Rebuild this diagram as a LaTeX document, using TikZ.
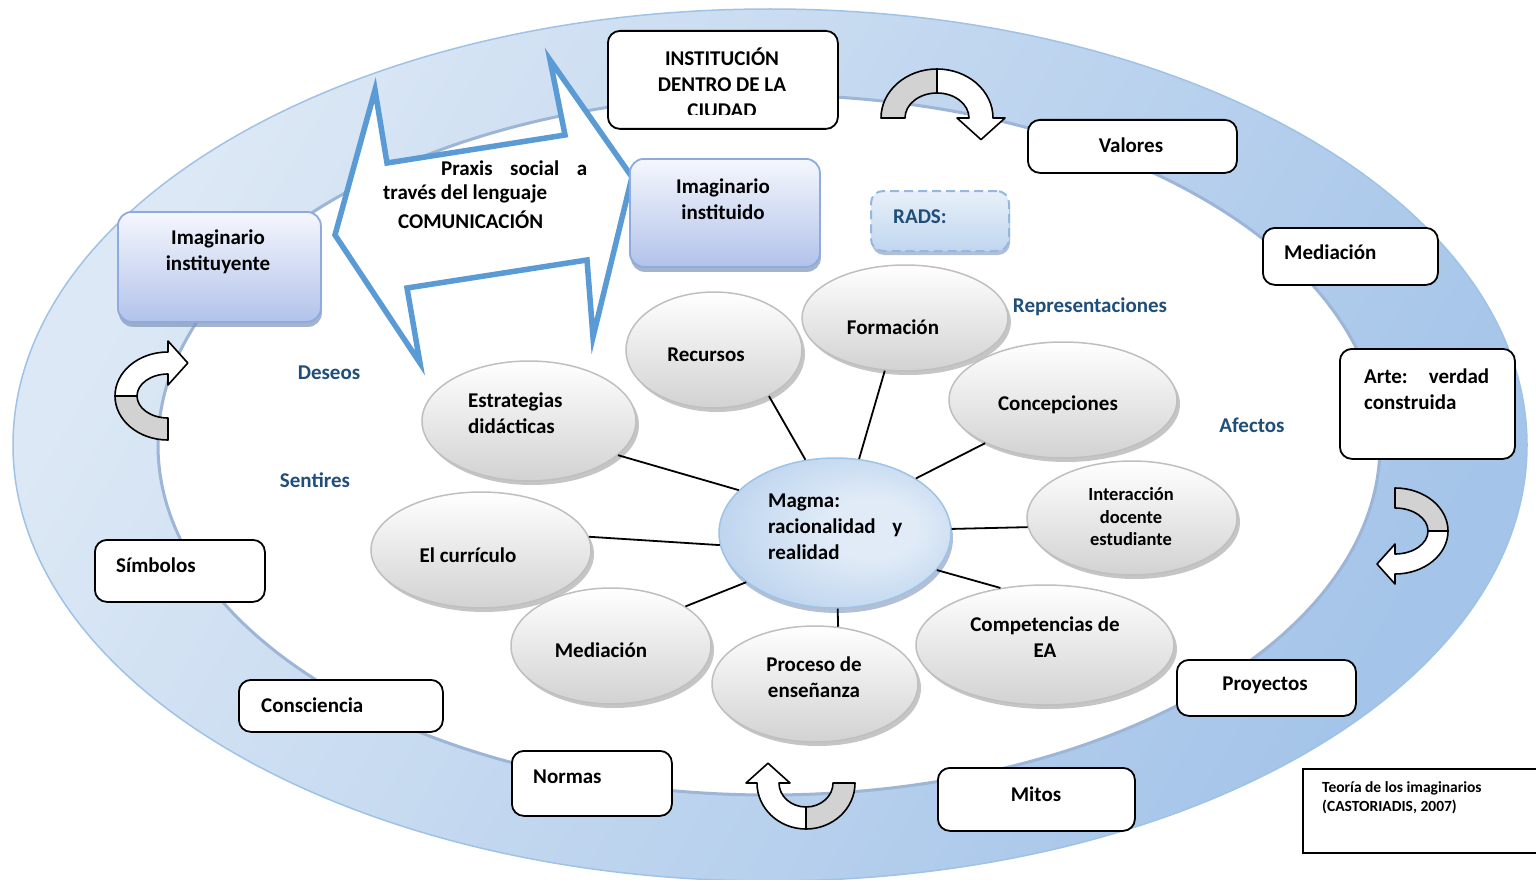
\documentclass[tikz,border=0pt]{standalone}
\usepackage{fontspec}
\setmainfont{Carlito}
\usetikzlibrary{shapes.geometric,shadows}
\definecolor{ringA}{HTML}{DCE8F5}
\definecolor{ringB}{HTML}{A4C4E9}
\definecolor{ringEdge}{HTML}{9FC2E7}
\definecolor{innerEdge}{HTML}{9DB5D6}
\definecolor{arrowBlue}{HTML}{5B9BD5}
\definecolor{boxTop}{HTML}{F5F7FD}
\definecolor{boxBot}{HTML}{B2C2EA}
\definecolor{boxEdge}{HTML}{8FAADC}
\definecolor{shadowBlue}{HTML}{7F95B8}
\definecolor{labBlue}{HTML}{1F4E79}
\definecolor{ellEdge}{HTML}{BFBFBF}
\definecolor{ellBot}{HTML}{D2D2D2}
\definecolor{magIn}{HTML}{E0EBF7}
\definecolor{magOut}{HTML}{9DBFE6}
\definecolor{magEdge}{HTML}{9DC3E6}
\definecolor{radTop}{HTML}{E8F0F9}
\definecolor{radBot}{HTML}{C0D6EF}
\definecolor{radEdge}{HTML}{95B8E3}
\pgfdeclareradialshading{magmashade}{\pgfpoint{10bp}{2bp}}{color(0bp)=(magIn); color(10bp)=(magIn); color(48bp)=(magOut)}
\newcommand\fA{\fontsize{21}{26}\selectfont\bfseries}
\newcommand\fB{\fontsize{18.5}{22.5}\selectfont\bfseries}
\newcommand\fC{\fontsize{15.5}{19}\selectfont\bfseries}
% x, y, rotation, half span a, height b, half band h
\newcommand{\uturnarrow}[6]{%
\begin{scope}[shift={(#1,#2)},rotate=#3,yscale=-1,line width=1.6pt,line join=round]
\filldraw[fill=gray!35] ({-(#4)-(#6)},0) arc[start angle=180,end angle=90,x radius={#4+#6},y radius={#5+#6}] -- (0,{#5-#6}) arc[start angle=90,end angle=180,x radius={#4-#6},y radius={#5-#6}] -- cycle;
\filldraw[fill=white] (0,{#5+#6}) arc[start angle=90,end angle=0,x radius={#4+#6},y radius={#5+#6}] -- ({#4+2*#6},0) -- (#4,{-1.8*#6}) -- ({#4-2*#6},0) -- ({#4-#6},0) arc[start angle=0,end angle=90,x radius={#4-#6},y radius={#5-#6}] -- cycle;
\end{scope}}
\begin{document}
\begin{tikzpicture}[x=1pt,y=-1pt,
  wbox/.style={draw=black,line width=1.8pt,fill=white,rounded corners=12pt,inner sep=0pt,anchor=north west},
  bbox/.style={draw=boxEdge,line width=1.8pt,top color=boxTop,bottom color=boxBot,rounded corners=14pt,inner sep=0pt,anchor=north west,drop shadow={shadow xshift=1pt,shadow yshift=-5pt,fill=shadowBlue,opacity=0.7}},
  gell/.style={ellipse,draw=ellEdge,line width=1.5pt,top color=white,bottom color=ellBot,inner sep=0pt,drop shadow={shadow xshift=3pt,shadow yshift=-4pt,fill=black!50,opacity=0.45}},
  txt/.style={font=\fA,inner sep=0pt,align=center},
  ltxt/.style={font=\fA,inner sep=0pt,align=left,anchor=west},
  blab/.style={font=\fA,text=labBlue,inner sep=0pt},
  conn/.style={line width=1.8pt,black}]
\useasboundingbox (0,0) rectangle (1536,880);

% ring
\shadedraw[top color=ringA,bottom color=ringB,shading angle=60,draw=ringEdge,line width=1.5pt] (770,445) ellipse[x radius=757,y radius=436];
\filldraw[fill=white,draw=innerEdge,line width=3pt] (769,445) ellipse[x radius=611,y radius=350];

% double arrow
\draw[arrowBlue,line width=5.5pt,fill=white,line join=miter] (335,235) -- (375,90) -- (387,163) -- (565,135) -- (550,60) -- (632,177) -- (593,337) -- (587,260) -- (407,288) -- (420,363) -- cycle;
\node[inner sep=0pt,anchor=west,font=\fA] (praxis1) at (441,168) {\hbox to 146pt{Praxis\hfill social\hfill a}};
\node[ltxt] (praxis2) at (383,194) {través del lenguaje};
\node[ltxt] (praxis3) at (398,220) {COMUNICACIÓN};

% white boxes
\node[wbox,minimum width=230pt,minimum height=98pt] (inst) at (607,30) {};
\begin{scope}
\clip (607,30) rectangle (837,115);
\node[txt] (tinst) at (722,83) {INSTITUCIÓN\\DENTRO DE LA\\CIUDAD};
\end{scope}
\node[wbox,minimum width=209pt,minimum height=53pt] (valores) at (1027,119) {};
\node[txt] (tvalores) at (1131,145) {Valores};
\node[wbox,minimum width=175pt,minimum height=57pt] (mediacionB) at (1262,227) {};
\node[ltxt] (tmediacionB) at (1284,252) {Mediación};
\node[wbox,minimum width=175pt,minimum height=110pt] (arte) at (1339,348) {};
\node[ltxt] (tarte) at (1364,389) {\hbox to 125pt{Arte:\hfill verdad}\\construida};
\node[wbox,minimum width=170pt,minimum height=62pt] (simbolos) at (94,539) {};
\node[ltxt] (tsimbolos) at (116,565) {Símbolos};
\node[wbox,minimum width=204pt,minimum height=52pt] (consciencia) at (238,679) {};
\node[ltxt] (tconsciencia) at (261,705) {Consciencia};
\node[wbox,minimum width=160pt,minimum height=65pt] (normas) at (511,750) {};
\node[ltxt] (tnormas) at (533,777) {Normas};
\node[wbox,minimum width=197pt,minimum height=63pt] (mitos) at (937,767) {};
\node[txt] (tmitos) at (1036,794) {Mitos};
\node[wbox,minimum width=179pt,minimum height=56pt] (proyectos) at (1176,659) {};
\node[txt] (tproyectos) at (1265,685) {Proyectos};
\node[draw=black,line width=1.8pt,fill=white,inner sep=0pt,anchor=north west,minimum width=250pt,minimum height=84pt] (teoria) at (1302,768) {};
\node[inner sep=0pt,align=left,anchor=west,font=\fC] (tteoria) at (1322,798) {Teoría de los imaginarios\\(CASTORIADIS, 2007)};

% blue boxes
\node[bbox,minimum width=203pt,minimum height=110pt] (instituyente) at (117,211) {};
\node[txt] (tinstituyente) at (218,252) {Imaginario\\instituyente};
\node[bbox,minimum width=190pt,minimum height=108pt] (instituido) at (629,158) {};
\node[txt] (tinstituido) at (723,199) {Imaginario\\instituido};
\node[draw=radEdge,line width=2pt,dash pattern=on 9pt off 5pt,top color=radTop,bottom color=radBot,rounded corners=12pt,inner sep=0pt,anchor=north west,minimum width=138pt,minimum height=60pt,drop shadow={shadow xshift=1pt,shadow yshift=-4pt,fill=shadowBlue,opacity=0.6}] (rads) at (870,190) {};
\node[blab,anchor=west] (trads) at (893,217) {RADS:};

% blue labels
\node[blab] (deseos) at (329,373) {Deseos};
\node[blab] (sentires) at (315,480) {Sentires};
\node[blab] (repres) at (1090,307) {Representaciones};
\node[blab] (afectos) at (1252,425) {Afectos};

% ellipses
\node[gell,minimum width=176pt,minimum height=116pt] (recursos) at (714,350) {};
\node[gell,minimum width=206pt,minimum height=106pt] (formacion) at (905,318) {};
\node[gell,minimum width=228pt,minimum height=116pt] (concepciones) at (1063,400) {};
\node[gell,minimum width=214pt,minimum height=120pt] (estrategias) at (529,421) {};
\node[gell,minimum width=210pt,minimum height=114pt] (interaccion) at (1132,518) {};
\node[gell,minimum width=220pt,minimum height=116pt] (curriculo) at (481,550) {};
\node[gell,minimum width=200pt,minimum height=116pt] (mediacion) at (611,646) {};
\node[gell,minimum width=206pt,minimum height=116pt] (proceso) at (815,684) {};
\node[gell,minimum width=258pt,minimum height=120pt] (competencias) at (1045,645) {};
\node[ellipse,draw=magEdge,line width=1.5pt,shading=magmashade,inner sep=0pt,minimum width=232pt,minimum height=150pt,drop shadow={shadow xshift=2pt,shadow yshift=-5pt,fill=shadowBlue,opacity=0.6}] (magma) at (835,533) {};

\node[txt] (trecursos) at (706,355) {Recursos};
\node[txt] (tformacion) at (893,327) {Formación};
\node[txt] (tconcepciones) at (1058,405) {Concepciones};
\node[ltxt] (testrategias) at (468,413) {Estrategias\\didácticas};
\node[inner sep=0pt,align=center,font=\fB] (tinteraccion) at (1131,517) {Interacción\\docente\\estudiante};
\node[txt] (tcurriculo) at (468,555) {El currículo};
\node[txt] (tmediacion) at (601,650) {Mediación};
\node[txt] (tproceso) at (814,677) {Proceso de\\enseñanza};
\node[txt] (tcompetencias) at (1045,637) {Competencias de\\EA};
\node[ltxt] (tmagma) at (768,527) {Magma:\\\hbox to 134pt{racionalidad\hfill y}\\realidad};

% connectors
\draw[conn] (magma.112) -- (recursos.-40);
\draw[conn] (magma.72) -- (formacion.-111);
\draw[conn] (magma.34) -- (concepciones.209);
\draw[conn] (magma.156) -- (estrategias.-21);
\draw[conn] (magma.2) -- (interaccion.185);
\draw[conn] (magma.186) -- (curriculo.7);
\draw[conn] (magma.209) -- (mediacion.28);
\draw[conn] (magma.-88) -- (proceso.68);
\draw[conn] (magma.-20) -- (competencias.128);

% u-turn arrows
\uturnarrow{937}{118}{0}{44}{37}{12}
\uturnarrow{168}{396}{90}{33}{42}{11}
\uturnarrow{1395}{531}{-90}{33}{43}{10}
\uturnarrow{806}{783}{180}{38}{35}{11}
\end{tikzpicture}
\end{document}
